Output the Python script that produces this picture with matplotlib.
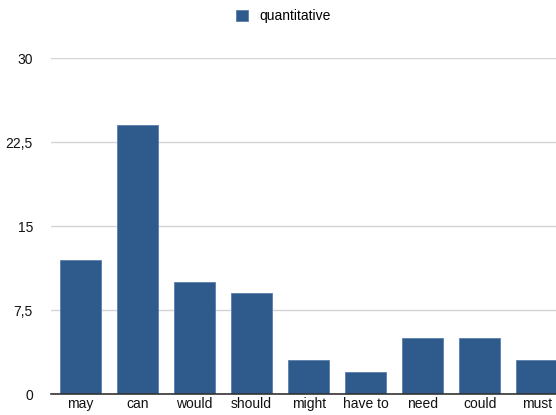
#!/usr/bin/env python3
"""Bar chart of modal verb counts (quantitative)."""

import matplotlib

matplotlib.use("Agg")
import matplotlib.pyplot as plt
from matplotlib.ticker import FuncFormatter

CATEGORIES = ["may", "can", "would", "should", "might", "have to", "need", "could", "must"]
QUANTITATIVE = [12, 24, 10, 9, 3, 2, 5, 5, 3]
Y_TICKS = [0, 7.5, 15, 22.5, 30]

BAR_COLOR = "#2e5a8c"
GRID_COLOR = "#d4d4d4"

plt.rcParams["font.family"] = ["Liberation Sans", "DejaVu Sans"]


def _comma_fmt(v, _pos):
    s = f"{v:g}"
    return s.replace(".", ",")


def main() -> None:
    fig = plt.figure(figsize=(5.56, 4.15), dpi=100)
    ax = fig.add_axes([51 / 556, 21 / 415, 505 / 556, 336 / 415])

    x = list(range(len(CATEGORIES)))
    bars = ax.bar(x, QUANTITATIVE, width=0.72, color=BAR_COLOR,
                  edgecolor="#5a7fae", linewidth=0.6, label="quantitative", zorder=3)

    ax.set_xlim(-0.52, 8.34)
    ax.set_ylim(0, 30)
    ax.set_yticks(Y_TICKS)
    ax.yaxis.set_major_formatter(FuncFormatter(_comma_fmt))
    ax.set_xticks(x)
    ax.set_xticklabels(CATEGORIES)

    ax.tick_params(axis="both", length=0, labelsize=10, colors="#111111")
    ax.tick_params(axis="y", pad=13)
    ax.tick_params(axis="x", pad=2)

    ax.grid(True, axis="y", color=GRID_COLOR, linewidth=1.0, zorder=0)
    for side in ("top", "right", "left"):
        ax.spines[side].set_visible(False)
    ax.spines["bottom"].set_color("#333333")
    ax.spines["bottom"].set_linewidth(1.2)
    ax.spines["bottom"].set_zorder(4)

    fig.legend(handles=[bars], labels=["quantitative"], loc="center",
               bbox_to_anchor=(0.51, 1 - 16 / 415), frameon=False, fontsize=10,
               handlelength=0.85, handleheight=0.85, handletextpad=0.8)

    fig.savefig("out.png", dpi=100)
    plt.close(fig)


if __name__ == "__main__":
    main()
